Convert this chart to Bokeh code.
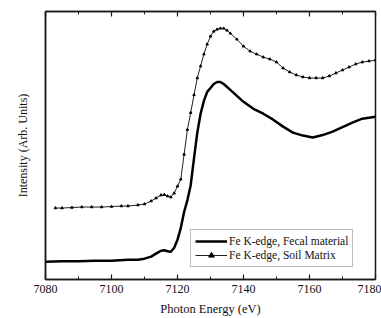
from bokeh.plotting import figure
from bokeh.models import (Range1d, LinearAxis, FixedTicker, SingleIntervalTicker, Legend, LegendItem,
                          CustomLabelingPolicy)
from bokeh.embed import file_html
from bokeh.resources import INLINE

# Fe K-edge, Fecal material
fecal_e = [7080, 7085, 7090, 7095, 7100, 7105, 7108, 7110, 7112, 7113.5, 7115, 7116, 7117, 7118,
           7119, 7120, 7121, 7122, 7123, 7124, 7125, 7126, 7127, 7128, 7129, 7130, 7131, 7132,
           7133, 7134, 7136, 7138, 7140, 7143, 7146, 7149, 7152, 7155, 7158, 7161, 7164, 7167,
           7170, 7173, 7176, 7180]
fecal_i = [18, 18.5, 18.5, 19, 19, 20, 20, 21, 23, 26, 29, 29.5, 28.5, 28,
           32, 40, 52, 68, 80, 95, 122, 148, 167, 180, 189, 193, 197, 199,
           199, 197, 191, 185, 179, 172, 167, 161, 154, 148, 145, 143, 145.5, 149,
           153.5, 158, 162, 164]

# Fe K-edge, Soil Matrix
soil_e = [7083, 7085, 7088, 7091, 7094, 7097, 7100, 7103, 7105, 7108, 7110, 7112, 7113.5, 7115,
          7116, 7117, 7118, 7119, 7120, 7121, 7122, 7123, 7124, 7125, 7126, 7127, 7128, 7129,
          7130, 7131, 7132, 7133, 7134, 7135, 7136, 7138, 7140, 7142, 7144, 7146, 7148, 7150,
          7152, 7154, 7156, 7158, 7160, 7162, 7164, 7166, 7168, 7170, 7172, 7174, 7176, 7178, 7180]
soil_i = [72, 72, 72.5, 73, 73, 73, 73.5, 74, 74, 75, 76, 79, 82, 85,
          85.5, 84, 83, 87, 94, 101, 126, 151, 168, 186, 203, 215, 227, 237,
          245, 250, 252, 253, 253, 251, 248, 242, 235, 230, 227, 224, 222, 219,
          213, 209, 206, 204, 203, 203, 203, 205, 208, 211, 214, 217, 219, 220, 221]

x_ticks_interval = 20
serif = "Liberation Serif"
ink = "#1a1a1a"

p = figure(width=381, height=318, x_range=Range1d(7080, 7180), y_range=Range1d(0, 270),
           output_backend="svg", toolbar_location=None,
           min_border_left=45, min_border_right=6, min_border_top=7, min_border_bottom=38)
p.xgrid.visible = False
p.ygrid.visible = False
p.outline_line_color = ink
p.outline_line_width = 1.5
p.background_fill_color = "white"
p.border_fill_color = "white"

xa = p.xaxis[0]
xa.ticker = SingleIntervalTicker(interval=x_ticks_interval, num_minor_ticks=2)
xa.major_tick_in = 5
xa.major_tick_out = 0
xa.minor_tick_in = 3
xa.minor_tick_out = 0
xa.axis_line_width = 1.5
xa.axis_line_color = ink
xa.major_tick_line_color = ink
xa.minor_tick_line_color = ink
xa.major_tick_line_width = 1.2
xa.major_label_text_font = serif
xa.major_label_text_font_size = "12px"
xa.major_label_text_color = "#111111"
xa.major_label_standoff = 5
xa.axis_label = "Photon Energy (eV)"
xa.axis_label_text_font = serif
xa.axis_label_text_font_style = "normal"
xa.axis_label_text_font_size = "12.5px"
xa.axis_label_text_color = "#111111"
xa.axis_label_standoff = 6

ya = p.yaxis[0]
ya.ticker = FixedTicker(ticks=[])
ya.axis_line_width = 1.5
ya.axis_line_color = ink
ya.axis_label = "Intensity (Arb. Units)"
ya.axis_label_text_font = serif
ya.axis_label_text_font_style = "normal"
ya.axis_label_text_font_size = "12px"
ya.axis_label_text_color = "#111111"
ya.axis_label_standoff = 16

top = LinearAxis(ticker=SingleIntervalTicker(interval=x_ticks_interval, num_minor_ticks=2))
top.major_tick_in = 5
top.major_tick_out = 0
top.minor_tick_in = 3
top.minor_tick_out = 0
top.major_label_policy = CustomLabelingPolicy(code="")
top.major_label_standoff = 0
top.axis_line_width = 1.5
top.axis_line_color = ink
top.major_tick_line_color = ink
top.minor_tick_line_color = ink
top.major_tick_line_width = 1.2
p.add_layout(top, "above")

r1 = p.line(fecal_e, fecal_i, line_color="black", line_width=2.5)
r2 = p.line(soil_e, soil_i, line_color="#222222", line_width=1)
r3 = p.scatter(soil_e, soil_i, marker="triangle", size=2.5, fill_color="black", line_color="black")

legend = Legend(items=[LegendItem(label="Fe K-edge, Fecal material", renderers=[r1]),
                       LegendItem(label="Fe K-edge, Soil Matrix", renderers=[r2, r3])],
                location=(145, 12))
legend.label_text_font = serif
legend.label_text_font_size = "11.5px"
legend.label_text_color = "#111111"
legend.glyph_width = 32
legend.glyph_height = 14
legend.label_height = 14
legend.label_standoff = 2
legend.spacing = 0
legend.padding = 4
legend.margin = 0
legend.border_line_color = "#777777"
legend.border_line_width = 1
legend.background_fill_alpha = 1
p.add_layout(legend, "center")

open("out.html", "w").write(file_html(p, INLINE))
